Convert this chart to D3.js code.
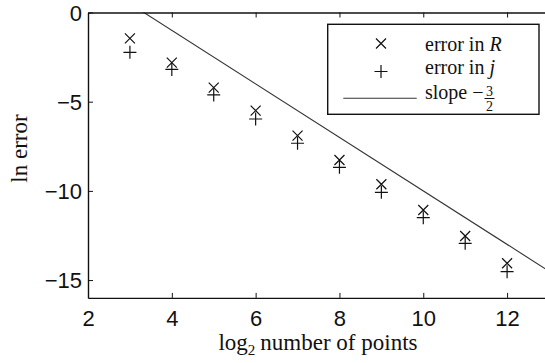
<!DOCTYPE html>
<html><head><meta charset="utf-8">
<script src="https://cdn.jsdelivr.net/npm/d3@7"></script>
<style>body{margin:0;background:#fff}svg{display:block}</style>
</head><body>
<script>
const nPoints = [3,4,5,6,7,8,9,10,11,12];
const errR = [-1.45,-2.81,-4.21,-5.50,-6.90,-8.27,-9.63,-11.07,-12.53,-14.06];
const errJ = [-2.23,-3.19,-4.62,-5.97,-7.33,-8.68,-10.08,-11.50,-12.94,-14.53];
const slopeX = [2, 13];
const slopeY = [2, -14.5];
const xTicks = [2,4,6,8,10,12];
const yTicks = [0,-5,-10,-15];

const W=545,H=363;
const svg=d3.select("body").append("svg").attr("width",W).attr("height",H);
const x=d3.scaleLinear().domain([2,13]).range([88,549]);
const y=d3.scaleLinear().domain([-16,0]).range([297.9,12.5]);
const ink="#111";
const sans="Liberation Sans, Arial, sans-serif";
const serif="Liberation Serif, DejaVu Serif, Times New Roman, serif";

svg.append("defs").append("clipPath").attr("id","c").append("rect")
  .attr("x",88).attr("y",12.5).attr("width",461).attr("height",285.4);

// slope line
svg.append("path").attr("clip-path","url(#c)")
  .datum(slopeX.map((d,i)=>[d,slopeY[i]]))
  .attr("d",d3.line().x(d=>x(d[0])).y(d=>y(d[1])))
  .attr("fill","none").attr("stroke","#333").attr("stroke-width",1.1);

// markers
const g=svg.append("g");
const cross=(cx,cy,s)=>`M${cx-s},${cy-s}L${cx+s},${cy+s}M${cx-s},${cy+s}L${cx+s},${cy-s}`;
const plus=(cx,cy,s)=>`M${cx-s},${cy}L${cx+s},${cy}M${cx},${cy-s}L${cx},${cy+s}`;
g.selectAll(".r").data(nPoints).join("path").attr("class","r")
  .attr("d",(d,i)=>cross(x(d),y(errR[i]),5)).attr("stroke",ink).attr("stroke-width",1.2).attr("fill","none");
g.selectAll(".j").data(nPoints).join("path").attr("class","j")
  .attr("d",(d,i)=>plus(x(d),y(errJ[i]),6.5)).attr("stroke",ink).attr("stroke-width",1.2).attr("fill","none");

// axes
const ax=svg.append("g").attr("transform",`translate(0,${y(-16)})`)
  .call(d3.axisBottom(x).tickValues(xTicks).tickSizeInner(-5).tickSizeOuter(0).tickPadding(12));
const axT=svg.append("g").attr("transform",`translate(0,${y(0)})`)
  .call(d3.axisTop(x).tickValues(xTicks).tickSizeInner(-5).tickSizeOuter(0).tickFormat(""));
const ay=svg.append("g").attr("transform",`translate(${x(2)},0)`)
  .call(d3.axisLeft(y).tickValues(yTicks).tickSizeInner(-5).tickSizeOuter(0).tickPadding(6));
[ax,axT,ay].forEach(a=>{
  a.select(".domain").attr("stroke",ink).attr("stroke-width",1.4);
  a.selectAll(".tick line").attr("stroke",ink).attr("stroke-width",1);
  a.selectAll("text").attr("font-family",sans).attr("font-size",22).attr("fill",ink);
});
ay.selectAll("text").attr("dy","0.36em");

// axis labels
const xl=svg.append("text").attr("x",318).attr("y",350).attr("text-anchor","middle")
  .attr("font-family",serif).attr("font-size",23).attr("fill",ink);
xl.append("tspan").text("log");
xl.append("tspan").attr("font-size",15).attr("dy",5).text("2");
xl.append("tspan").attr("dy",-5).attr("dx",5).text("number of points");

svg.append("text").attr("transform","translate(27,148.5) rotate(-90)").attr("text-anchor","middle")
  .attr("font-family",serif).attr("font-size",23).attr("fill",ink).text("ln error");

// legend
const lg=svg.append("g");
lg.append("rect").attr("x",327.7).attr("y",24.3).attr("width",211.3).attr("height",90)
  .attr("fill","#fff").attr("stroke",ink).attr("stroke-width",1.4);
lg.append("path").attr("d",cross(381,43.5,5)).attr("stroke",ink).attr("stroke-width",1.2);
lg.append("path").attr("d",plus(381,71.5,6.5)).attr("stroke",ink).attr("stroke-width",1.2);
lg.append("line").attr("x1",343.3).attr("x2",416.7).attr("y1",98.3).attr("y2",98.3).attr("stroke","#333").attr("stroke-width",1.1);
const t1=lg.append("text").attr("x",425).attr("y",50.5).attr("font-family",serif).attr("font-size",20).attr("fill",ink);
t1.append("tspan").text("error in ");
t1.append("tspan").attr("font-style","italic").text("R");
const t2=lg.append("text").attr("x",425).attr("y",74).attr("font-family",serif).attr("font-size",20).attr("fill",ink);
t2.append("tspan").text("error in ");
t2.append("tspan").attr("font-style","italic").text("j");
const t3=lg.append("text").attr("x",425).attr("y",98.5).attr("font-family",serif).attr("font-size",20).attr("fill",ink);
t3.append("tspan").text("slope \u2212");
// fraction 3/2
const fx=425+t3.node().getComputedTextLength()+6;
lg.append("text").attr("x",fx).attr("y",96).attr("text-anchor","middle").attr("font-family",serif).attr("font-size",14).attr("fill",ink).text("3");
lg.append("line").attr("x1",fx-5).attr("x2",fx+5).attr("y1",98.5).attr("y2",98.5).attr("stroke",ink).attr("stroke-width",1);
lg.append("text").attr("x",fx).attr("y",111).attr("text-anchor","middle").attr("font-family",serif).attr("font-size",14).attr("fill",ink).text("2");
</script>
</body></html>
